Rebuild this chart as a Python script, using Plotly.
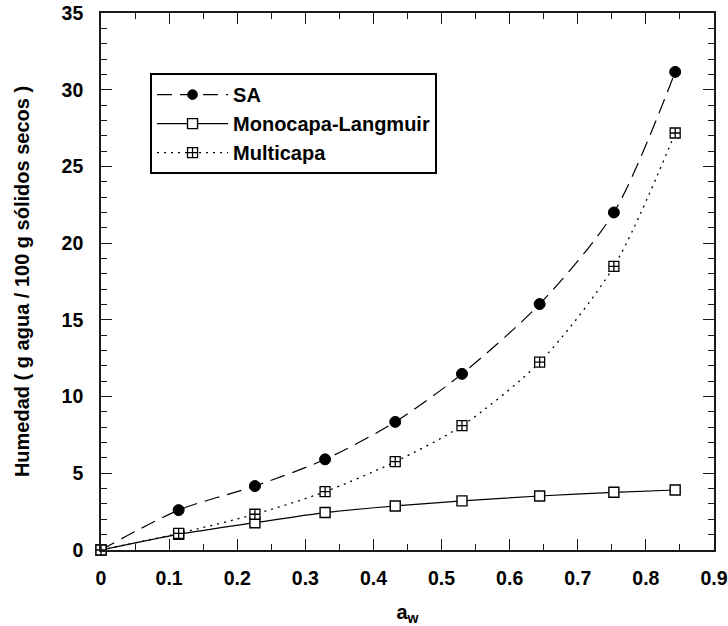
import plotly.graph_objects as go

# Water activity of the saturated-salt environments
aw = [0.114, 0.226, 0.329, 0.432, 0.530, 0.644, 0.753, 0.843]

# Moisture content (g water / 100 g dry solids)
sa = [2.60, 4.17, 5.91, 8.35, 11.48, 16.03, 22.00, 31.16]
monocapa = [1.02, 1.78, 2.44, 2.87, 3.20, 3.52, 3.76, 3.91]
multicapa = [1.09, 2.33, 3.80, 5.76, 8.10, 12.24, 18.48, 27.18]

series_names = ["SA", "Monocapa-Langmuir", "Multicapa"]

# every curve starts from the origin
x0 = [0.0] + aw
sa_y = [0.0] + sa
mono_y = [0.0] + monocapa
multi_y = [0.0] + multicapa

FONT = "Liberation Sans, Arial, Helvetica, sans-serif"
INK = "#1a1a1a"

fig = go.Figure()

fig.add_trace(go.Scatter(
    x=x0, y=sa_y, name=series_names[0], mode="lines+markers",
    line=dict(color="black", width=1.2, dash="15px,8px", shape="spline", smoothing=0.8),
    marker=dict(symbol="circle", size=[0] + [11] * len(aw), color="#000000", opacity=1,
                line=dict(color="#000000", width=[0] + [1] * len(aw))),
    cliponaxis=False,
))
fig.add_trace(go.Scatter(
    x=x0, y=mono_y, name=series_names[1], mode="lines+markers",
    line=dict(color="black", width=1.2, shape="spline", smoothing=0.8),
    marker=dict(symbol="square", size=10, color="white",
                line=dict(color="black", width=1.4)),
    cliponaxis=False,
))
fig.add_trace(go.Scatter(
    x=x0, y=multi_y, name=series_names[2], mode="lines+markers",
    line=dict(color="black", width=1.3, dash="2px,5px", shape="spline", smoothing=0.8),
    marker=dict(symbol="square-cross", size=10, color="white",
                line=dict(color="black", width=1.3)),
    cliponaxis=False,
))

axis_common = dict(
    showgrid=False, zeroline=False, showline=True, linecolor=INK, linewidth=1.6,
    mirror="allticks", ticks="inside", tickcolor=INK, tickwidth=1.2, ticklen=11,
    tickfont=dict(family=FONT, size=19.5, color="black", weight="bold"),
)

fig.update_xaxes(
    range=[0, 0.9], tick0=0, dtick=0.1,
    minor=dict(dtick=0.05, ticks="inside", ticklen=6, tickcolor=INK, tickwidth=1.2),
    ticklabelstandoff=10,
    title=dict(text="a<sub>w</sub>", standoff=18,
               font=dict(family=FONT, size=20, color="black", weight="bold")),
    **axis_common,
)
fig.update_yaxes(
    range=[0, 35], tick0=0, dtick=5,
    minor=dict(dtick=1, ticks="inside", ticklen=6, tickcolor=INK, tickwidth=1.2),
    ticklabelstandoff=12,
    title=dict(text="Humedad ( g agua / 100 g sólidos secos )", standoff=27,
               font=dict(family=FONT, size=20, color="black", weight="bold")),
    **axis_common,
)

fig.update_layout(
    width=728, height=626,
    margin=dict(l=101, r=14, t=13, b=76, autoexpand=False),
    paper_bgcolor="white", plot_bgcolor="white",
    showlegend=True,
    legend=dict(
        x=0.08, y=0.888, xanchor="left", yanchor="top",
        bgcolor="white", bordercolor="black", borderwidth=2,
        font=dict(family=FONT, size=20, color="black", weight="bold"),
        itemwidth=71, tracegroupgap=0,
    ),
)

fig.write_html("out.html")
